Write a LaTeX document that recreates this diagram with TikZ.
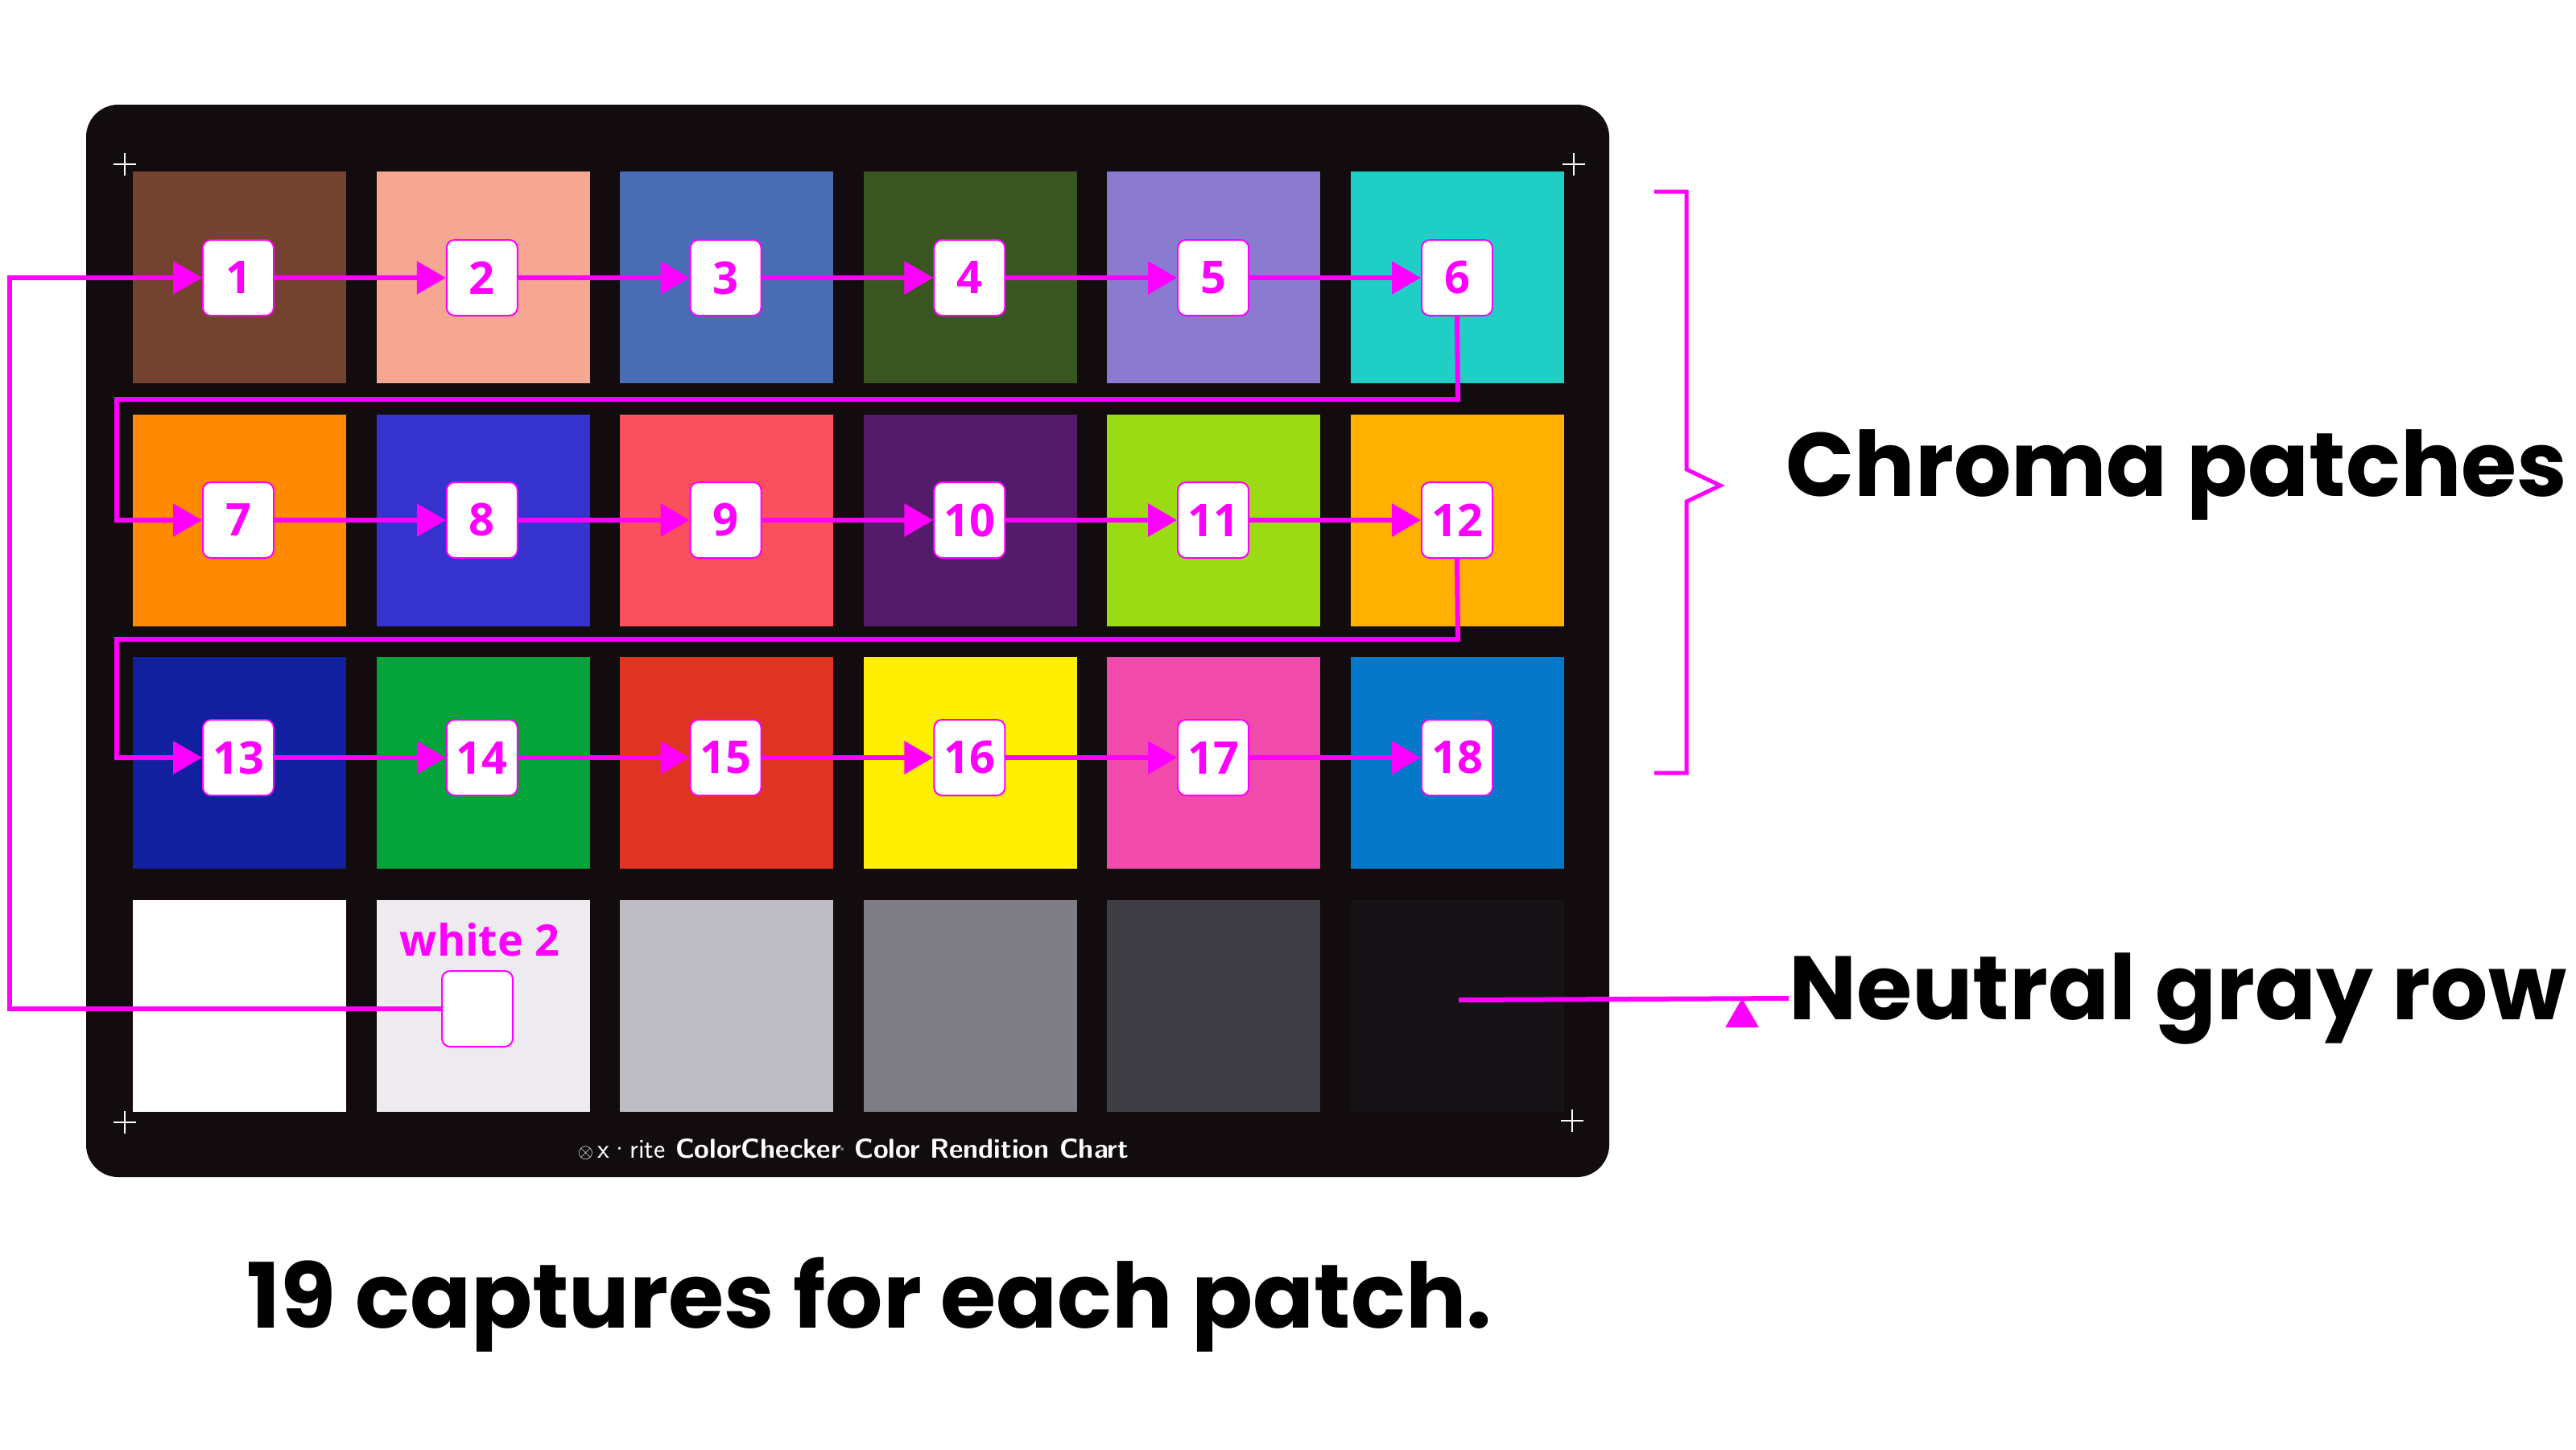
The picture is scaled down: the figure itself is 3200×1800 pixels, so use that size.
\documentclass[tikz,border=0pt]{standalone}
\usepackage{fontspec}
\setmainfont{Poppins}
\newfontfamily\numf{Open Sans}[FontFace={sb}{n}{* Semibold}]
\usetikzlibrary{arrows.meta}
\definecolor{mag}{HTML}{FF00FF}
\definecolor{board}{HTML}{120C0E}
\definecolor{p1}{HTML}{73432F}\definecolor{p2}{HTML}{F5A792}\definecolor{p3}{HTML}{4A6CB5}
\definecolor{p4}{HTML}{3A5620}\definecolor{p5}{HTML}{8A7BD0}\definecolor{p6}{HTML}{1FCFC6}
\definecolor{p7}{HTML}{FF8A00}\definecolor{p8}{HTML}{3532CD}\definecolor{p9}{HTML}{FA4F5C}
\definecolor{p10}{HTML}{521C6A}\definecolor{p11}{HTML}{9ADB14}\definecolor{p12}{HTML}{FFB000}
\definecolor{p13}{HTML}{10209E}\definecolor{p14}{HTML}{04A33A}\definecolor{p15}{HTML}{DE3421}
\definecolor{p16}{HTML}{FFEF00}\definecolor{p17}{HTML}{F04BAA}\definecolor{p18}{HTML}{0477C8}
\definecolor{p19}{HTML}{FFFFFF}\definecolor{p20}{HTML}{EDEBF0}\definecolor{p21}{HTML}{BDBCC2}
\definecolor{p22}{HTML}{7E7D83}\definecolor{p23}{HTML}{3F3E44}\definecolor{p24}{HTML}{151316}
\tikzset{
 num/.style={draw=mag,fill=white,line width=2pt,rounded corners=10pt,minimum width=88pt,minimum height=94pt,inner sep=0pt,text=mag,font=\fontsize{56}{56}\selectfont\numf\bfseries},
 conn/.style={draw=mag,line width=6pt},
 arr/.style={conn,-{Triangle[length=36pt,width=40pt]}},
 big/.style={font=\fontsize{112}{112}\selectfont\bfseries,text=black,inner sep=0pt},
 cross/.style={draw=white,line width=2pt}
}
\begin{document}
\begin{tikzpicture}[x=1pt,y=-1pt]
\useasboundingbox (0,0) rectangle (3200,1800);
\fill[white] (0,0) rectangle (3200,1800);
\fill[board,rounded corners=40pt] (107,130) rectangle (1999,1462);
\foreach \r in {0,1,2,3}{\foreach \c in {0,...,5}{
 \pgfmathtruncatemacro{\k}{\r*6+\c+1}
 \fill[p\k] ({165+302.6*\c},{213+301.5*\r}) rectangle +(265,263);}}
\foreach \x/\y in {155/204,1955/204,155/1394,1953/1392}{
 \draw[cross] (\x-14,\y)--(\x+14,\y); \draw[cross] (\x,\y-14)--(\x,\y+14);}
\node[text=white,font=\fontsize{34}{34}\selectfont\sffamily\bfseries] (logo) at (1060,1428) {$\otimes$\,\textmd{x·rite} ColorChecker\textsuperscript{\tiny ®} Color Rendition Chart};
% numbered nodes
\foreach \r/\y in {0/345,1/646,2/941}{\foreach \c in {0,...,5}{
 \pgfmathtruncatemacro{\k}{\r*6+\c+1}
 \node[num] (n\k) at ({296+302.8*\c},\y) {\k};}}
\node[num] (w2) at (593,1253) {};
\node[text=mag,font=\fontsize{54}{54}\selectfont\numf\bfseries] (wl) at (596,1167) {white 2};
% connectors
\coordinate (L) at (12,1253);
\coordinate (L2) at (12,345);
\draw[arr] (w2.west) -- (L) -- (L2) -- (n1.west);
\foreach \a/\b in {1/2,2/3,3/4,4/5,5/6,7/8,8/9,9/10,10/11,11/12,13/14,14/15,15/16,16/17,17/18}{
 \draw[arr] (n\a) -- (n\b);}
\coordinate (t1) at (1811,496); \coordinate (t2) at (145,496);
\draw[arr] (n6.south) -- (t1) -- (t2) |- (n7.west);
\coordinate (u1) at (1811,794); \coordinate (u2) at (145,794);
\draw[arr] (n12.south) -- (u1) -- (u2) |- (n13.west);
% bracket
\coordinate (b1) at (2055,238); \coordinate (b2) at (2095,238);
\coordinate (b3) at (2095,960); \coordinate (b4) at (2055,960);
\coordinate (bt) at (2137,603);
\draw[conn,line width=5pt] (b1) -- (b2) -- (2095,583) -- (bt) -- (2095,623) -- (b3) -- (b4);
\node[big,anchor=west] (chroma) at (2218,590) {Chroma patches};
\coordinate (g0) at (1812,1242);
\node[big,anchor=west] (gray) at (2222,1240) {Neutral gray row};
\draw[arr] (g0) -- (gray.west) ++(-58,0);
\node[big] (cap) at (1080,1620) {19 captures for each patch.};
\end{tikzpicture}
\end{document}
